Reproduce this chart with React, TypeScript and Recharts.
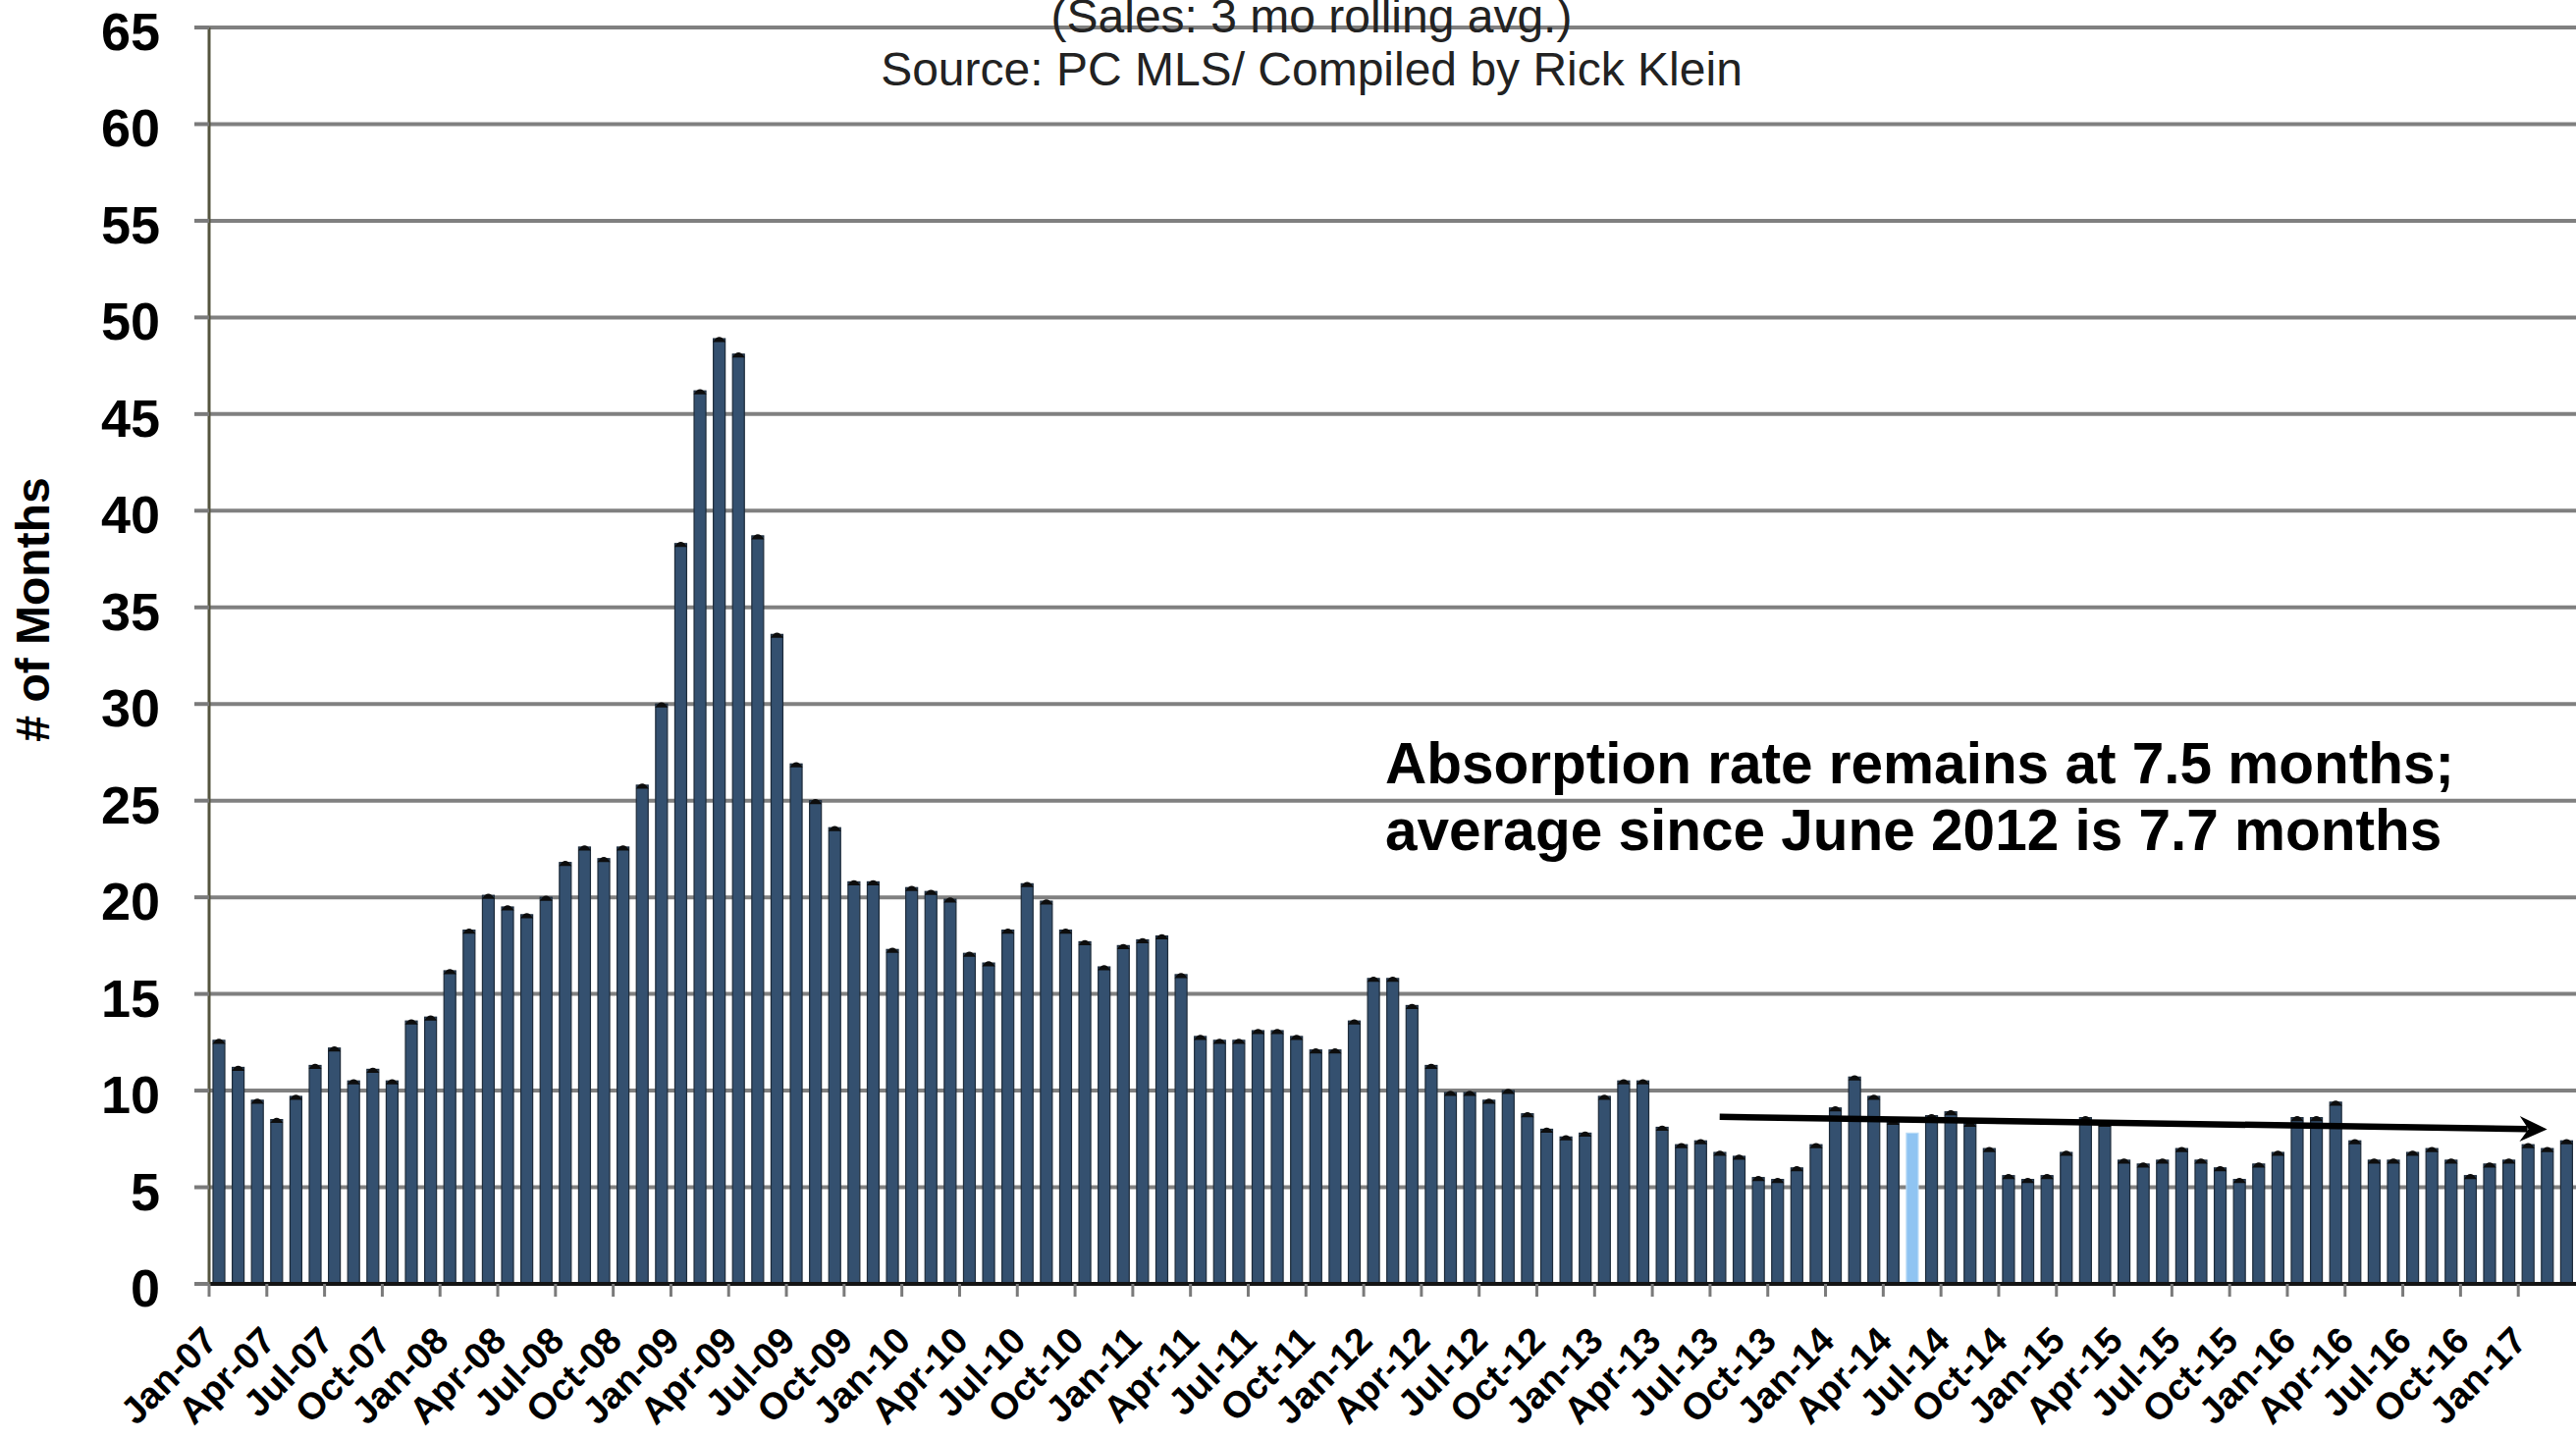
import React from "react"
import { Bar, BarChart, CartesianGrid, ReferenceLine, XAxis, YAxis } from "recharts"

// absorption rate, # of months (sales: 3 mo rolling avg.)
const monthNames = ["Jan", "Feb", "Mar", "Apr", "May", "Jun", "Jul", "Aug", "Sep", "Oct", "Nov", "Dec"]
const years = ["07", "08", "09", "10", "11", "12", "13", "14", "15", "16", "17"]

const v2007 = [12.6, 11.2, 9.5, 8.5, 9.7, 11.3, 12.2, 10.5, 11.1, 10.5, 13.6, 13.8]
const v2008 = [16.2, 18.3, 20.1, 19.5, 19.1, 20.0, 21.8, 22.6, 22.0, 22.6, 25.8, 30.0]
const v2009 = [38.3, 46.2, 48.9, 48.1, 38.7, 33.6, 26.9, 25.0, 23.6, 20.8, 20.8, 17.3]
const v2010 = [20.5, 20.3, 19.9, 17.1, 16.6, 18.3, 20.7, 19.8, 18.3, 17.7, 16.4, 17.5]
const v2011 = [17.8, 18.0, 16.0, 12.8, 12.6, 12.6, 13.1, 13.1, 12.8, 12.1, 12.1, 13.6]
const v2012 = [15.8, 15.8, 14.4, 11.3, 9.9, 9.9, 9.5, 10.0, 8.8, 8.0, 7.6, 7.8]
const v2013 = [9.7, 10.5, 10.5, 8.1, 7.2, 7.4, 6.8, 6.6, 5.5, 5.4, 6.0, 7.2]
const v2014 = [9.1, 10.7, 9.7, 8.4, 7.8, 8.7, 8.9, 8.3, 7.0, 5.6, 5.4, 5.6]
const v2015 = [6.8, 8.6, 8.3, 6.4, 6.2, 6.4, 7.0, 6.4, 6.0, 5.4, 6.2, 6.8]
const v2016 = [8.6, 8.6, 9.4, 7.4, 6.4, 6.4, 6.8, 7.0, 6.4, 5.6, 6.2, 6.4]
const v2017 = [7.2, 7.0, 7.4]

const yTicks = [0, 5, 10, 15, 20, 25, 30, 35, 40, 45, 50, 55, 60, 65]
const highlightMonth = "May-14"

// trend arrow drawn over the recent months
const trendStart = { x: "Jul-13", y: 8.64 }
const trendEnd = { x: "Feb-17", y: 8.0 }

const values = [...v2007, ...v2008, ...v2009, ...v2010, ...v2011, ...v2012, ...v2013, ...v2014, ...v2015, ...v2016, ...v2017]
const data = values.map((value, i) => ({
  month: `${monthNames[i % 12]}-${years[Math.floor(i / 12)]}`,
  value,
}))

const W = 2624
const H = 1465
const PLOT_LEFT = 213
const BAND = (W - PLOT_LEFT) / data.length
const FONT = '"Liberation Sans", Arial, Helvetica, sans-serif'

const CapBar = (props: any) => {
  const { x, y, width, height, payload } = props
  if (!height || height <= 0) return null
  const hl = payload && payload.month === highlightMonth
  return (
    <g>
      <rect
        x={x}
        y={y}
        width={width}
        height={height}
        fill={hl ? "#8fc4f2" : "#34506f"}
        stroke={hl ? "#b7daf6" : "#1d2b3a"}
        strokeWidth={1.2}
      />
      {hl ? null : (
        <path
          d={`M${x - 0.5},${y + 3.5} Q${x + width / 2},${y - 7} ${x + width + 0.5},${y + 3.5} Z`}
          fill="#0d0d0d"
        />
      )}
    </g>
  )
}

const ValueTick = (props: any) => {
  const { x, y, payload } = props
  return (
    <text
      x={x}
      y={y + 23}
      textAnchor="end"
      fontFamily={FONT}
      fontWeight={700}
      fontSize={54}
      fill="#000"
    >
      {payload.value}
    </text>
  )
}

const MonthTick = (props: any) => {
  const { x, y, payload } = props
  const bx = x - BAND / 2
  const ax = x + 1
  const ay = y + 60
  return (
    <g>
      <line x1={bx} x2={bx} y1={y} y2={y + 13} stroke="#7a7a7a" strokeWidth={3} />
      <text
        x={ax}
        y={ay}
        textAnchor="end"
        transform={`rotate(-45, ${ax}, ${ay})`}
        fontFamily={FONT}
        fontWeight={700}
        fontSize={38}
        fill="#000"
      >
        {payload.value}
      </text>
    </g>
  )
}

const TrendArrow = (props: any) => {
  const { x1, y1, x2, y2 } = props
  if (x1 == null || x2 == null) return null
  const deg = (Math.atan2(y2 - y1, x2 - x1) * 180) / Math.PI
  const len = Math.hypot(x2 - x1, y2 - y1)
  const head = `M0,0 L-28,-13 L-19,0 L-28,13 Z`
  return (
    <g>
      <defs>
        <filter id="arrowShadow" x="-5%" y="-300%" width="110%" height="700%">
          <feGaussianBlur stdDeviation="5" />
        </filter>
      </defs>
      <g transform={`translate(${x1 + 16},${y1 + 17}) rotate(${deg})`} filter="url(#arrowShadow)" opacity={0.85}>
        <line x1={0} y1={0} x2={len - 6} y2={0} stroke="#7d7d7d" strokeWidth={14} />
      </g>
      <g transform={`translate(${x1},${y1}) rotate(${deg})`}>
        <line x1={0} y1={0} x2={len - 20} y2={0} stroke="#000" strokeWidth={6.5} />
        <path d={head} transform={`translate(${len},0)`} fill="#000" />
      </g>
    </g>
  )
}

export default function App() {
  return (
    <div
      style={{
        position: "fixed",
        left: 0,
        top: 0,
        width: W,
        height: H,
        overflow: "hidden",
        background: "#fff",
      }}
    >
      <BarChart
        width={W}
        height={H}
        data={data}
        margin={{ top: 28, right: 0, left: 0, bottom: 0 }}
        barSize={12}
      >
        <CartesianGrid vertical={false} stroke="#808080" strokeWidth={4} />
        <XAxis
          dataKey="month"
          height={157}
          interval={2}
          tickLine={false}
          tickSize={0}
          tickMargin={0}
          axisLine={{ stroke: "#141414", strokeWidth: 4 }}
          tick={(p: any) => <MonthTick {...p} />}
        />
        <YAxis
          width={PLOT_LEFT}
          domain={[0, 65]}
          ticks={yTicks}
          interval={0}
          axisLine={{ stroke: "#55553f", strokeWidth: 3 }}
          tickLine={{ stroke: "#7a7a7a", strokeWidth: 4 }}
          tickSize={15}
          tickMargin={35}
          tick={(p: any) => <ValueTick {...p} />}
        />
        <Bar dataKey="value" isAnimationActive={false} shape={(p: any) => <CapBar {...p} />} />
        <ReferenceLine
          segment={[trendStart, trendEnd]}
          stroke="#000"
          ifOverflow="visible"
          shape={(p: any) => <TrendArrow {...p} />}
        />
      </BarChart>
      <svg
        width={W}
        height={H}
        style={{ position: "absolute", left: 0, top: 0, pointerEvents: "none" }}
      >
        <text x={1336} y={33} textAnchor="middle" fontFamily={FONT} fontSize={48} fill="#222">
          (Sales: 3 mo rolling avg.)
        </text>
        <text x={1336} y={87} textAnchor="middle" fontFamily={FONT} fontSize={48} fill="#222">
          Source: PC MLS/ Compiled by Rick Klein
        </text>
        <text
          x={50}
          y={621}
          textAnchor="middle"
          transform="rotate(-90, 50, 621)"
          fontFamily={FONT}
          fontWeight={700}
          fontSize={48}
          fill="#000"
        >
          # of Months
        </text>
        <text x={1411} y={798} fontFamily={FONT} fontWeight={700} fontSize={58.5} fill="#000">
          Absorption rate remains at 7.5 months;
        </text>
        <text x={1411} y={866} fontFamily={FONT} fontWeight={700} fontSize={58.5} fill="#000">
          average since June 2012 is 7.7 months
        </text>
      </svg>
    </div>
  )
}
